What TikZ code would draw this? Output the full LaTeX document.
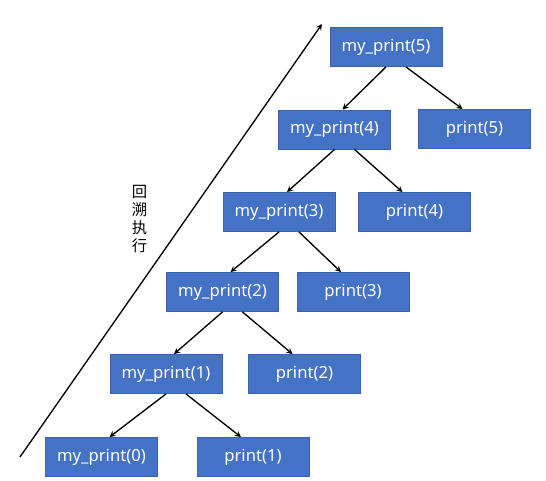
\documentclass[tikz,border=0pt]{standalone}
\usepackage{fontspec}
\setmainfont{Noto Sans}
\newfontfamily\cjk{Noto Sans CJK SC}
\definecolor{boxblue}{HTML}{4472C4}
\definecolor{boxedge}{HTML}{3A63AE}
\tikzstyle{callbox}=[rectangle,draw=boxedge,fill=boxblue,text=white,minimum width=84pt,minimum height=29.5pt,inner sep=0pt,font=\fontsize{12.5}{14}\selectfont]
\tikzstyle{arrowdecorate}=[->,>=stealth,line width=1pt]
\tikzstyle{sidelabel}=[font=\cjk\fontsize{11.5}{13.5}\selectfont,align=center,inner sep=0pt]
\begin{document}
\begin{tikzpicture}[x=0.75pt,y=-0.75pt]
      \useasboundingbox (0,0) rectangle (546,480);
      %nodes
      \foreach \nodename/\x/\y/\value in {
        m5/386/47/my\_print(5),
        m4/334.5/129.5/my\_print(4),
        p5/474.5/129/print(5),
        m3/279/212/my\_print(3),
        p4/414.5/212/print(4),
        m2/222.5/292/my\_print(2),
        p3/353/292/print(3),
        m1/166/374/my\_print(1),
        p2/304.5/374/print(2),
        m0/101.5/457/my\_print(0),
        p1/253/457/print(1)}
      {
        \node[callbox] (\nodename) at (\x,\y) {\value};
      };
      %edges
      \foreach \parent/\leftchild/\rightchild in {m5/m4/p5, m4/m3/p4, m3/m2/p3, m2/m1/p2, m1/m0/p1}
      {
        \draw[arrowdecorate] (\parent.south) -- ([xshift=6pt]\leftchild.north);
        \draw[arrowdecorate] ([xshift=15pt]\parent.south) -- ([xshift=-9pt]\rightchild.north);
      };
      %backtracking arrow
      \coordinate (base) at (20,457);
      \coordinate (tip) at (322,24);
      \draw[arrowdecorate] (base) -- (tip);
      \node[sidelabel] (backtrack) at (139.5,219) {回\\溯\\执\\行};
\end{tikzpicture}
\end{document}
